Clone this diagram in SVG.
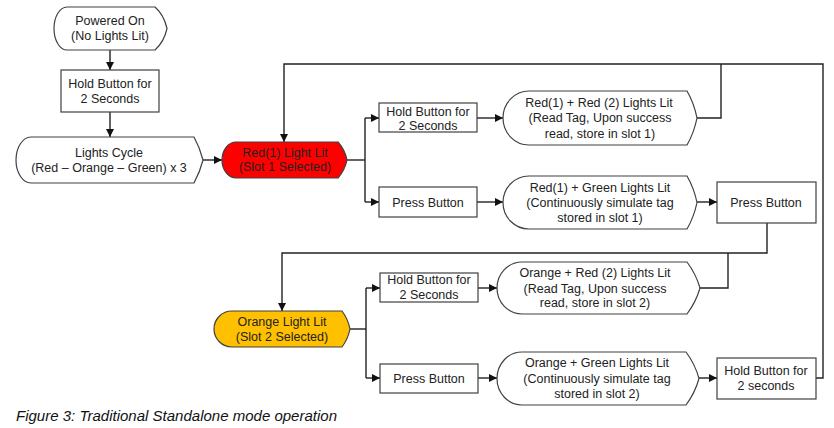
<svg xmlns="http://www.w3.org/2000/svg" width="834" height="428" viewBox="0 0 834 428">
<style>
.n{fill:#fff;stroke:#404040;stroke-width:1.2}
.red{fill:#ff0000}
.org{fill:#ffc000}
.t{font-family:"Liberation Sans",Arial,sans-serif;font-size:12.5px;fill:#222;text-anchor:middle}
.c{fill:none;stroke:#222;stroke-width:1.4}
.cap{font-family:"Liberation Sans",Arial,sans-serif;font-size:15px;font-style:italic;fill:#111}
</style>
<defs>
<marker id="ah" viewBox="0 0 10 10" refX="10" refY="5" markerWidth="8" markerHeight="8" markerUnits="userSpaceOnUse" orient="auto">
<path d="M0,0 L10,5 L0,10 z" fill="#111"/>
</marker>
</defs>
<rect width="834" height="428" fill="#fff"/>

<g id="connectors">
<path class="c" d="M110,50 V70" marker-end="url(#ah)"/>
<path class="c" d="M110,112 V137" marker-end="url(#ah)"/>
<path class="c" d="M203,160 H222" marker-end="url(#ah)"/>
<path class="c" d="M816,378 H823 V64 H284 V142" marker-end="url(#ah)"/>
<path class="c" d="M697,118 H721 V64"/>
<path class="c" d="M347,160 H365"/>
<path class="c" d="M365,118 V202"/>
<path class="c" d="M365,118 H379" marker-end="url(#ah)"/>
<path class="c" d="M365,202 H379" marker-end="url(#ah)"/>
<path class="c" d="M477,118 H503" marker-end="url(#ah)"/>
<path class="c" d="M477,202 H503" marker-end="url(#ah)"/>
<path class="c" d="M697,202 H717" marker-end="url(#ah)"/>
<path class="c" d="M767,223 V253 H282 V311" marker-end="url(#ah)"/>
<path class="c" d="M700,288 H728 V253"/>
<path class="c" d="M350,329 H366"/>
<path class="c" d="M366,288 V378"/>
<path class="c" d="M366,288 H380" marker-end="url(#ah)"/>
<path class="c" d="M366,378 H380" marker-end="url(#ah)"/>
<path class="c" d="M478,288 H497" marker-end="url(#ah)"/>
<path class="c" d="M478,378 H497" marker-end="url(#ah)"/>
<path class="c" d="M699,378 H717" marker-end="url(#ah)"/>
</g>

<g id="powered-on">
<path class="n" d="M67,7 H155 Q164,15 167,28.5 Q164,42 155,50 H67 A13,21.5 0 0 1 67,7 Z"/>
<text class="t" x="110" y="25">Powered On</text>
<text class="t" x="110" y="40">(No Lights Lit)</text>
</g>

<g id="hold-initial">
<rect class="n" x="61" y="70" width="98" height="42"/>
<text class="t" x="110" y="87.5">Hold Button for</text>
<text class="t" x="110" y="102.5">2 Seconds</text>
</g>

<g id="lights-cycle">
<path class="n" d="M31,137 H194 Q200,148 203,160 Q200,172 194,183 H31 A15,23 0 0 1 31,137 Z"/>
<text class="t" x="109" y="156.5">Lights Cycle</text>
<text class="t" x="109" y="171.5">(Red – Orange – Green) x 3</text>
</g>

<g id="red-light">
<path class="n red" d="M236,142 H338 Q345,150 347,160 Q345,170 338,178 H236 A14,18 0 0 1 236,142 Z"/>
<text class="t" x="285" y="156.5">Red(1) Light Lit</text>
<text class="t" x="285" y="170.5">(Slot 1 Selected)</text>
</g>

<g id="hold-slot1">
<rect class="n" x="379" y="103" width="98" height="29"/>
<text class="t" x="428" y="115.5">Hold Button for</text>
<text class="t" x="428" y="129.5">2 Seconds</text>
</g>

<g id="red-red">
<path class="n" d="M529,91 H687 Q694,103 697,118 Q694,133 687,145 H529 A26,27 0 0 1 529,91 Z"/>
<text class="t" x="599" y="106.5">Red(1) + Red (2) Lights Lit</text>
<text class="t" x="600" y="122">(Read Tag, Upon success</text>
<text class="t" x="600" y="137.5">read, store in slot 1)</text>
</g>

<g id="press-slot1">
<rect class="n" x="379" y="187" width="98" height="30"/>
<text class="t" x="428" y="207">Press Button</text>
</g>

<g id="red-green">
<path class="n" d="M529,176 H687 Q694,188 697,202.5 Q694,217 687,229 H529 A26,26.5 0 0 1 529,176 Z"/>
<text class="t" x="600" y="191.5">Red(1) + Green Lights Lit</text>
<text class="t" x="600" y="207">(Continuously simulate tag</text>
<text class="t" x="600" y="221.5">stored in slot 1)</text>
</g>

<g id="press-next">
<rect class="n" x="717" y="182" width="99" height="41"/>
<text class="t" x="766" y="207">Press Button</text>
</g>

<g id="orange-light">
<path class="n org" d="M232,311 H342 Q348,319 350,329 Q348,339 342,347 H232 A18,18 0 0 1 232,311 Z"/>
<text class="t" x="282" y="325.5">Orange Light Lit</text>
<text class="t" x="282" y="340.5">(Slot 2 Selected)</text>
</g>

<g id="hold-slot2">
<rect class="n" x="380" y="273" width="98" height="29"/>
<text class="t" x="429" y="284">Hold Button for</text>
<text class="t" x="429" y="299">2 Seconds</text>
</g>

<g id="orange-red">
<path class="n" d="M522,262 H687 Q696,274 700,288 Q696,302 687,314 H522 A25,26 0 0 1 522,262 Z"/>
<text class="t" x="595" y="276.5">Orange + Red (2) Lights Lit</text>
<text class="t" x="595" y="292.5">(Read Tag, Upon success</text>
<text class="t" x="595" y="306.5">read, store in slot 2)</text>
</g>

<g id="press-slot2">
<rect class="n" x="380" y="364" width="98" height="29"/>
<text class="t" x="429" y="382.5">Press Button</text>
</g>

<g id="orange-green">
<path class="n" d="M522,352 H686 Q695,364 699,378.5 Q695,393 686,405 H522 A25,26.5 0 0 1 522,352 Z"/>
<text class="t" x="597" y="366.5">Orange + Green Lights Lit</text>
<text class="t" x="597" y="382.5">(Continuously simulate tag</text>
<text class="t" x="597" y="397.5">stored in slot 2)</text>
</g>

<g id="hold-return">
<rect class="n" x="717" y="358" width="99" height="41"/>
<text class="t" x="766" y="374.5">Hold Button for</text>
<text class="t" x="766" y="389.5">2 seconds</text>
</g>

<text class="cap" x="16" y="421" textLength="321" lengthAdjust="spacingAndGlyphs">Figure 3: Traditional Standalone mode operation</text>
</svg>
